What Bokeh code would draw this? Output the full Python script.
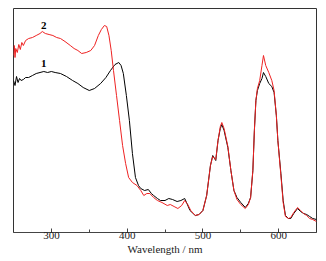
from bokeh.plotting import figure
from bokeh.models import Range1d, FixedTicker
from bokeh.core.properties import value
from bokeh.embed import file_html
from bokeh.resources import INLINE

# Curve 1 (black)
wl1 = [250, 252, 254, 256, 258, 260, 263, 266, 270, 275, 280, 285, 290, 295, 300, 305, 312, 320, 328, 335,
       342, 350, 357, 365, 372, 378, 384, 389, 392, 395, 399, 403, 407, 411, 415, 418, 423, 428, 432, 435,
       440, 444, 450, 455, 460, 466, 471, 476, 479, 483, 490, 495, 500, 505, 510, 513, 517, 520, 523, 525,
       528, 533, 537, 541, 545, 550, 556, 560, 563, 566, 568, 570, 572, 575, 578, 580, 583, 587, 591, 594,
       597, 599, 603, 606, 609, 613, 616, 620, 625, 629, 633, 637, 641, 645, 650]
abs1 = [1.52, 1.47, 1.56, 1.50, 1.54, 1.52, 1.53, 1.55, 1.55, 1.57, 1.59, 1.60, 1.61, 1.60, 1.61, 1.60, 1.59, 1.56, 1.52, 1.49,
        1.45, 1.42, 1.44, 1.49, 1.55, 1.62, 1.68, 1.70, 1.67, 1.59, 1.37, 1.12, 0.79, 0.55, 0.47, 0.44, 0.42, 0.43, 0.39, 0.37,
        0.34, 0.32, 0.32, 0.34, 0.33, 0.31, 0.32, 0.34, 0.29, 0.22, 0.17, 0.18, 0.22, 0.37, 0.67, 0.77, 0.72, 0.92, 1.04, 1.08,
        1.02, 0.85, 0.62, 0.42, 0.35, 0.30, 0.25, 0.29, 0.35, 0.62, 1.02, 1.32, 1.42, 1.49, 1.54, 1.60, 1.56, 1.49, 1.46, 1.40,
        1.17, 0.92, 0.59, 0.32, 0.17, 0.14, 0.14, 0.19, 0.24, 0.21, 0.19, 0.18, 0.16, 0.14, 0.13]

# Curve 2 (red)
wl2 = [250, 251, 252, 253, 255, 257, 259, 261, 263, 266, 270, 275, 280, 285, 288, 292, 297, 302, 307, 312,
       318, 325, 330, 335, 340, 346, 352, 357, 362, 366, 370, 373, 376, 379, 382, 386, 390, 394, 398, 402,
       407, 413, 418, 422, 426, 430, 435, 440, 446, 453, 457, 462, 467, 472, 476, 480, 484, 490, 495, 500,
       505, 510, 513, 517, 520, 523, 525, 528, 533, 537, 541, 545, 550, 556, 560, 563, 566, 568, 570, 572,
       575, 578, 580, 583, 587, 591, 594, 597, 599, 603, 606, 609, 613, 616, 620, 625, 629, 633, 637, 641,
       645, 650]
abs2 = [1.77, 1.87, 1.75, 1.84, 1.80, 1.88, 1.83, 1.90, 1.87, 1.92, 1.94, 1.95, 1.97, 1.99, 2.01, 1.99, 1.98, 1.97, 1.95, 1.94,
        1.91, 1.87, 1.84, 1.82, 1.79, 1.80, 1.82, 1.87, 1.97, 2.03, 2.07, 2.06, 1.97, 1.82, 1.62, 1.37, 1.12, 0.87, 0.69, 0.55,
        0.50, 0.47, 0.42, 0.37, 0.39, 0.39, 0.35, 0.32, 0.30, 0.27, 0.28, 0.26, 0.24, 0.27, 0.32, 0.28, 0.22, 0.17, 0.18, 0.22,
        0.37, 0.67, 0.76, 0.73, 0.92, 1.06, 1.10, 1.04, 0.86, 0.62, 0.42, 0.33, 0.28, 0.24, 0.28, 0.35, 0.62, 1.02, 1.32, 1.44,
        1.52, 1.67, 1.77, 1.67, 1.60, 1.52, 1.42, 1.17, 0.92, 0.57, 0.30, 0.16, 0.14, 0.15, 0.20, 0.25, 0.22, 0.19, 0.17, 0.14,
        0.13, 0.11]

x_ticks = [300, 400, 500, 600]
minor_x_ticks = [350, 450, 550]
x_title = "Wavelength / nm"
label_text = ["1", "2"]
label_x = [290, 290]
label_y = [1.69, 2.07]

serif = "Liberation Serif"

p = figure(width=326, height=261, output_backend="svg", toolbar_location=None,
           x_range=Range1d(250, 650), y_range=Range1d(0, 2.24),
           min_border_left=13, min_border_right=10, min_border_top=8, min_border_bottom=29)
p.background_fill_color = "white"
p.border_fill_color = "white"
p.outline_line_color = "#333333"
p.outline_line_width = 1
p.grid.visible = False
p.yaxis.visible = False

ax = p.xaxis[0]
ax.ticker = FixedTicker(ticks=x_ticks, minor_ticks=minor_x_ticks)
ax.major_tick_in = 4
ax.major_tick_out = 0
ax.minor_tick_in = 3
ax.minor_tick_out = 0
ax.axis_line_color = "#444444"
ax.major_tick_line_color = "#444444"
ax.minor_tick_line_color = "#444444"
ax.major_label_text_font = serif
ax.major_label_text_font_size = "11px"
ax.major_label_text_color = "#222222"
ax.major_label_standoff = -1
ax.axis_label = x_title
ax.axis_label_text_font = serif
ax.axis_label_text_font_style = "normal"
ax.axis_label_text_font_size = "11px"
ax.axis_label_text_color = "#222222"
ax.axis_label_standoff = 1

p.line(wl1, abs1, line_color="black", line_width=1)
p.line(wl2, abs2, line_color="#ee2222", line_width=1)

p.text(x=label_x, y=label_y, text=label_text, text_font=value(serif),
       text_font_style="bold", text_font_size="11px", text_align="center",
       text_baseline="middle", text_color="black")

open("out.html", "w").write(file_html(p, INLINE))
